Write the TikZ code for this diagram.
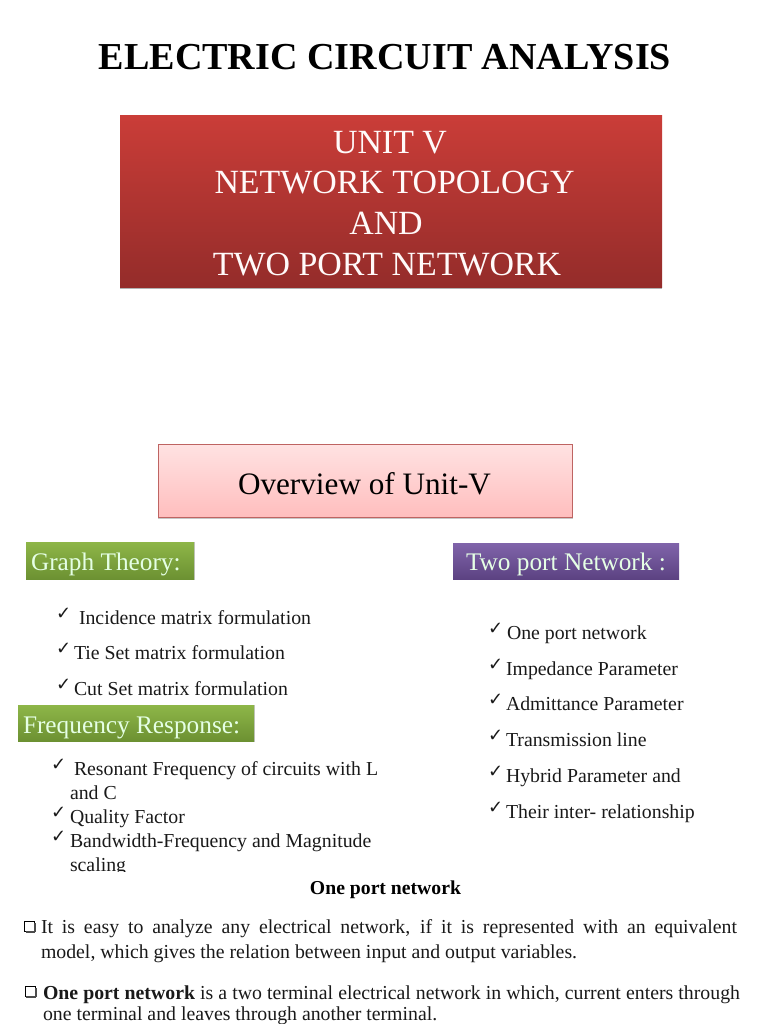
\documentclass[tikz,border=0pt]{standalone}
\usepackage{fontspec}
\setmainfont{Liberation Serif}
\newfontfamily\chk{DejaVu Sans}
\newcommand{\fs}[1]{\fontsize{#1}{#1}\selectfont}
\tikzset{
  x=1pt,y=-1pt,
  txt/.style={anchor=base west,inner sep=0pt,outer sep=0pt,text=black!90},
  ttl/.style={anchor=base,inner sep=0pt,outer sep=0pt},
  item/.style={txt,font=\fs{19.8}},
  tick/.style={txt,font=\chk\bfseries\fs{18}},
  wtxt/.style={ttl,text=white!92!pink,font=\fs{33.9}},
  banner/.style={anchor=base west,inner sep=0pt,outer sep=0pt,text=white!90!green,font=\fs{25.3}},
  body/.style={txt,font=\fs{19.8}},
  jbody/.style={body,align=justify},
  green shade/.style={top color={rgb,255:red,142;green,182;blue,72},bottom color={rgb,255:red,108;green,145;blue,50}},
  cbox/.style={draw=black,line width=0.9pt},
  cshadow/.style={draw=black!70,line width=1.2pt},
}
\begin{document}
\begin{tikzpicture}
\useasboundingbox (0,0) rectangle (768,1024);
\clip (0,0) rectangle (768,1024);
% title
\node[ttl,text=black,font=\bfseries\fs{38.1}] (title) at (385,70) {ELECTRIC CIRCUIT ANALYSIS};
% red box
\fill[black!30] (120,287) rectangle (662,289);
\shade[top color={rgb,255:red,202;green,61;blue,56},bottom color={rgb,255:red,148;green,44;blue,42}] (120,115.5) rectangle (662,287);
\node[wtxt] (u1) at (390,154) {UNIT V};
\node[wtxt] (u2) at (394.5,194) {NETWORK TOPOLOGY};
\node[wtxt] (u3) at (386,234) {AND};
\node[wtxt] (u4) at (387,275) {TWO PORT NETWORK};
% pink box
\fill[black!22] (158,517) rectangle (572.5,519);
\shade[top color={rgb,255:red,255;green,226;blue,226},bottom color={rgb,255:red,255;green,190;blue,190},draw={rgb,255:red,190;green,100;blue,98},line width=0.8pt] (158,444.5) rectangle (572,517);
\node[ttl,text=black,font=\fs{31.2}] (ov) at (364.5,494) {Overview of Unit-V};
% banners
\fill[black!22] (26,542) rectangle (195,580);
\shade[green shade] (26,542) rectangle (194,579);
\node[banner] (g) at (31,570) {Graph Theory:};
\fill[black!22] (18,705) rectangle (255,742);
\shade[green shade] (18,705) rectangle (254,741);
\node[banner] (f) at (23,733) {Frequency Response:};
\shade[top color={rgb,255:red,128;green,100;blue,170},bottom color={rgb,255:red,92;green,66;blue,130}] (453,543) rectangle (679,579);
\node[banner] (t) at (466,570) {Two port Network :};
% left lists
\node[tick] (c1) at (56,619) {✓}; \node[item] (i1) at (79,624) {Incidence matrix formulation};
\node[tick] (c2) at (56,654) {✓}; \node[item] (i2) at (74,659) {Tie Set matrix formulation};
\node[tick] (c3) at (56,690) {✓}; \node[item] (i3) at (74,695) {Cut Set matrix formulation};
\node[tick] (c4) at (51,770) {✓}; \node[item] (i4) at (74,775) {Resonant Frequency of circuits with L};
\node[item] (i5) at (70,799) {and C};
\node[tick] (c6) at (51,818) {✓}; \node[item] (i6) at (70,823) {Quality Factor};
\node[tick] (c7) at (51,842) {✓}; \node[item] (i7) at (70,847) {Bandwidth-Frequency and Magnitude};
\begin{scope}
\clip (0,0) rectangle (768,871);
\node[item] (i8) at (70,871) {scaling};
\end{scope}
% right lists
\node[tick] (r1) at (488,634) {✓}; \node[item] (j1) at (507,639) {One port network};
\node[tick] (r2) at (488,670) {✓}; \node[item] (j2) at (506,675) {Impedance Parameter};
\node[tick] (r3) at (488,705) {✓}; \node[item] (j3) at (506,710) {Admittance Parameter};
\node[tick] (r4) at (488,741) {✓}; \node[item] (j4) at (506,746) {Transmission line};
\node[tick] (r5) at (488,777) {✓}; \node[item] (j5) at (506,782) {Hybrid Parameter and};
\node[tick] (r6) at (488,813) {✓}; \node[item] (j6) at (506,818) {Their inter- relationship};
% lower text
\node[ttl,text=black,font=\bfseries\fs{19.7}] (o) at (385.5,894) {One port network};
\draw[cbox] (24.5,921) rectangle (34,931);
\draw[cshadow] (26,932) -- (35,932) (35,923) -- (35,932);
\node[jbody,text width=696pt] (b1) at (41,933) {\parfillskip=0pt It is easy to analyze any electrical network, if it is represented with an equivalent\par};
\node[body] (b2) at (41,958) {model, which gives the relation between input and output variables.};
\draw[cbox] (25,986) rectangle (35,996);
\draw[cshadow] (26,997) -- (36,997) (36,988) -- (36,997);
\node[jbody,text width=697pt] (b3) at (43,999) {\parfillskip=0pt \textbf{One port network} is a two terminal electrical network in which, current enters through\par};
\node[body] (b4) at (43,1020) {one terminal and leaves through another terminal.};
\end{tikzpicture}
\end{document}
